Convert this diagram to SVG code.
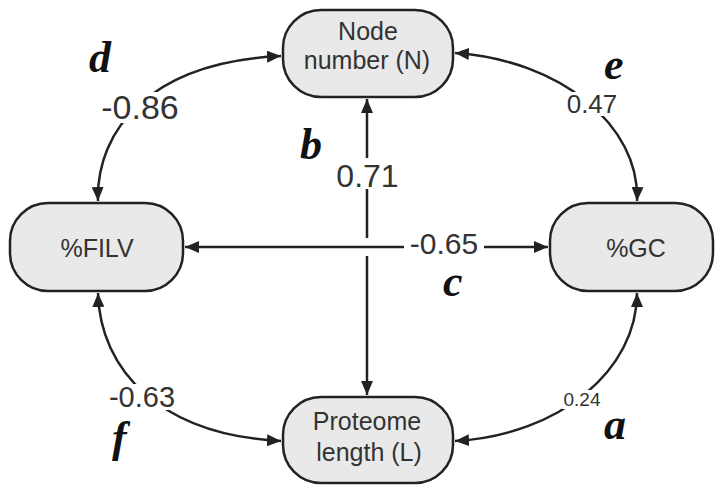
<svg xmlns="http://www.w3.org/2000/svg" width="721" height="485" viewBox="0 0 721 485">
<defs>
<marker id="ah" viewBox="0 0 14 12" refX="14" refY="6" markerWidth="14" markerHeight="12" markerUnits="userSpaceOnUse" orient="auto-start-reverse">
<path d="M0,0 L14,6 L0,12 Z" fill="#222"/>
</marker>
<style>
.node rect{fill:#e9e9e9;stroke:#222;stroke-width:2.5}
.nt{font-family:"Liberation Sans",Arial,sans-serif;font-size:25px;fill:#333;text-anchor:middle}
.edge{fill:none;stroke:#222;stroke-width:2.5;marker-start:url(#ah);marker-end:url(#ah)}
.halo{fill:#fff}
.num{font-family:"Liberation Sans",Arial,sans-serif;fill:#333;text-anchor:middle}
.let{font-family:"Liberation Serif","Times New Roman",serif;font-style:italic;font-weight:bold;font-size:44px;fill:#111}
</style>
</defs>
<rect width="721" height="485" fill="#fff"/>
<g id="connectors">
<path class="edge" d="M367,99 L367,395"/>
<line x1="358" y1="247" x2="376" y2="247" stroke="#fff" stroke-width="18"/>
<path class="edge" d="M185,247 L548,247"/>
<path class="edge" d="M98,201 C96,130 150,62 281,56"/>
<path class="edge" d="M455,53 C560,60 640,125 637,201"/>
<path class="edge" d="M98,293 C100,370 160,435 281,441"/>
<path class="edge" d="M455,441 C560,435 637,370 637,293"/>
<rect class="halo" x="96" y="92" width="88" height="31"/>
<rect class="halo" x="565" y="92" width="54" height="24"/>
<rect class="halo" x="335" y="158" width="65" height="31"/>
<rect class="halo" x="404" y="232" width="80" height="26"/>
<rect class="halo" x="106" y="384" width="73" height="26"/>
<rect class="halo" x="562" y="390" width="40" height="19"/>
<text class="num" x="140" y="119" font-size="34">-0.86</text>
<text class="num" x="592" y="113" font-size="26">0.47</text>
<text class="num" x="367.5" y="187" font-size="32">0.71</text>
<text class="num" x="444" y="254" font-size="30">-0.65</text>
<text class="num" x="142" y="407" font-size="29">-0.63</text>
<text class="num" x="582" y="406" font-size="19">0.24</text>
<text class="let" x="89" y="72">d</text>
<text class="let" x="604" y="79">e</text>
<text class="let" x="300" y="159">b</text>
<text class="let" x="443" y="296">c</text>
<text class="let" x="604" y="439">a</text>
<text class="let" x="112" y="452">f</text>
</g>
<g id="node-N" class="node">
<rect x="283" y="10" width="170" height="87" rx="38"/>
<text class="nt" x="368" y="40">Node</text>
<text class="nt" x="367" y="69">number (N)</text>
</g>
<g id="node-FILV" class="node">
<rect x="10" y="203" width="173" height="88" rx="38"/>
<text class="nt" x="97" y="257">%FILV</text>
</g>
<g id="node-GC" class="node">
<rect x="550" y="203" width="163" height="88" rx="38"/>
<text class="nt" x="636" y="257">%GC</text>
</g>
<g id="node-L" class="node">
<rect x="283" y="397" width="170" height="86" rx="38"/>
<text class="nt" x="367" y="430">Proteome</text>
<text class="nt" x="369" y="461">length (L)</text>
</g>
</svg>
